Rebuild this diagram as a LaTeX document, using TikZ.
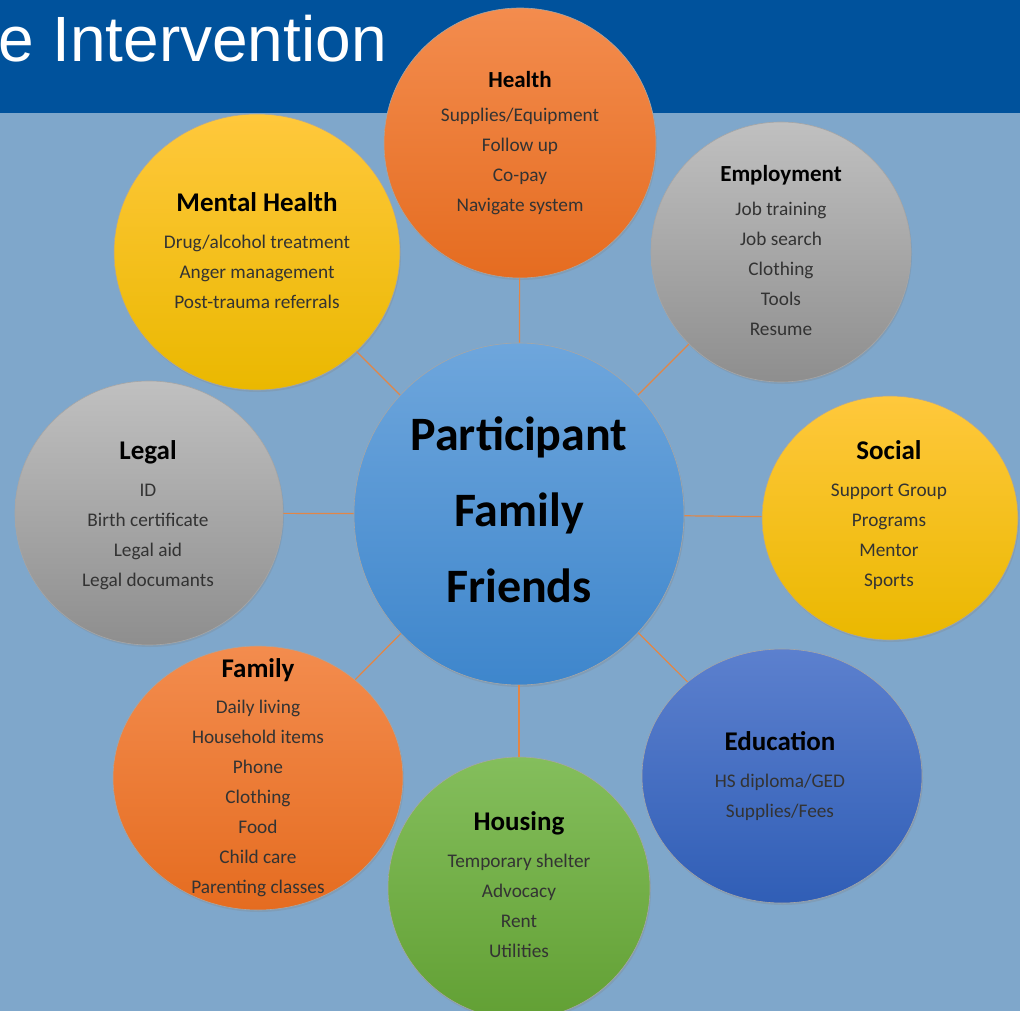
\documentclass[tikz,border=0pt]{standalone}
\usepackage{fontspec}
\setmainfont{Carlito}
\newfontfamily\titlefont{Liberation Sans}
\usetikzlibrary{shapes.geometric,shadows}
\definecolor{bandblue}{RGB}{0,82,156}
\definecolor{backblue}{RGB}{127,167,203}
\definecolor{spoke}{RGB}{226,134,70}
\definecolor{orangeT}{RGB}{243,140,78}
\definecolor{orangeB}{RGB}{229,108,32}
\definecolor{yellowT}{RGB}{255,200,60}
\definecolor{yellowB}{RGB}{234,184,0}
\definecolor{greyT}{RGB}{192,192,192}
\definecolor{greyB}{RGB}{142,142,142}
\definecolor{blueT}{RGB}{92,128,206}
\definecolor{blueB}{RGB}{48,94,182}
\definecolor{greenT}{RGB}{132,190,92}
\definecolor{greenB}{RGB}{98,160,52}
\definecolor{hubT}{RGB}{110,166,220}
\definecolor{hubB}{RGB}{62,134,204}
\newcommand{\hd}{\bfseries\fontsize{27}{30}\selectfont}
\newcommand{\hdsmall}{\bfseries\fontsize{23}{30}\selectfont}
\tikzset{
  bubble/.style 2 args={ellipse, draw=black!35, line width=0.6pt, inner sep=0pt,
    top color=#1, bottom color=#2,
    drop shadow={opacity=0.25, shadow xshift=1pt, shadow yshift=-2pt}},
  head/.style={anchor=base, inner sep=0pt},
  items/.style={anchor=base, align=center, inner sep=0pt, text=black!80,
    font=\fontsize{19.3}{30}\selectfont},
  link/.style={spoke, line width=1.2pt},
}
\begin{document}
\begin{tikzpicture}[x=1pt,y=-1pt]
  \useasboundingbox (0,0) rectangle (1020,1011);
  \clip (0,0) rectangle (1020,1011);
  \fill[backblue] (0,0) rectangle (1020,1011);
  \fill[bandblue] (0,0) rectangle (1020,113);
  \node[anchor=base east, inner sep=0pt, text=white,
    font=\titlefont\fontsize{64}{64}\selectfont] (title) at (387,62) {e Intervention};

  % circles
  \node[bubble={hubT}{hubB}, minimum width=330pt, minimum height=342pt] (hub) at (519,514) {};
  \node[bubble={orangeT}{orangeB}, minimum width=272pt, minimum height=270pt] (health) at (520,143) {};
  \node[bubble={greyT}{greyB}, minimum width=260pt, minimum height=260pt] (employ) at (781,252) {};
  \node[bubble={yellowT}{yellowB}, minimum width=286pt, minimum height=276pt] (mental) at (257,252) {};
  \node[bubble={greyT}{greyB}, minimum width=268pt, minimum height=264pt] (legal) at (149,513) {};
  \node[bubble={yellowT}{yellowB}, minimum width=256pt, minimum height=244pt] (social) at (890,518) {};
  \node[bubble={blueT}{blueB}, minimum width=280pt, minimum height=254pt] (educ) at (782,776) {};
  \node[bubble={greenT}{greenB}, minimum width=262pt, minimum height=262pt] (housing) at (519,888) {};
  \node[bubble={orangeT}{orangeB}, minimum width=290pt, minimum height=264pt] (family) at (258,778) {};

  % spokes
  \foreach \o in {health,employ,mental,legal,social,educ,housing,family}
    \draw[link] (hub) -- (\o);

  % texts (base = baseline of the last line)
  \node[anchor=base, align=center, inner sep=0pt,
    font=\bfseries\fontsize{48}{76}\selectfont] (hub-txt) at (519,602) {Participant\\Family\\Friends};

  \node[head, font=\hdsmall] (health-hd) at (520,88) {Health};
  \node[items] (health-txt) at (520,212) {Supplies/Equipment\\Follow up\\Co-pay\\Navigate system};

  \node[head, font=\hdsmall] (employ-hd) at (781,182) {Employment};
  \node[items] (employ-txt) at (781,335) {Job training\\Job search\\Clothing\\Tools\\Resume};

  \node[head, font=\hd] (mental-hd) at (257,212) {Mental Health};
  \node[items] (mental-txt) at (257,308) {Drug/alcohol treatment\\Anger management\\Post-trauma referrals};

  \node[head, font=\hd] (legal-hd) at (148,459) {Legal};
  \node[items] (legal-txt) at (148,586) {ID\\Birth certificate\\Legal aid\\Legal documants};

  \node[head, font=\hd] (social-hd) at (889,459) {Social};
  \node[items] (social-txt) at (889,586) {Support Group\\Programs\\Mentor\\Sports};

  \node[head, font=\hd] (educ-hd) at (780,750) {Education};
  \node[items] (educ-txt) at (780,817) {HS diploma/GED\\Supplies/Fees};

  \node[head, font=\hd] (housing-hd) at (519,830) {Housing};
  \node[items] (housing-txt) at (519,957) {Temporary shelter\\Advocacy\\Rent\\Utilities};

  \node[head, font=\hd] (family-hd) at (258,677) {Family};
  \node[items] (family-txt) at (258,893) {Daily living\\Household items\\Phone\\Clothing\\Food\\Child care\\Parenting classes};
\end{tikzpicture}
\end{document}
